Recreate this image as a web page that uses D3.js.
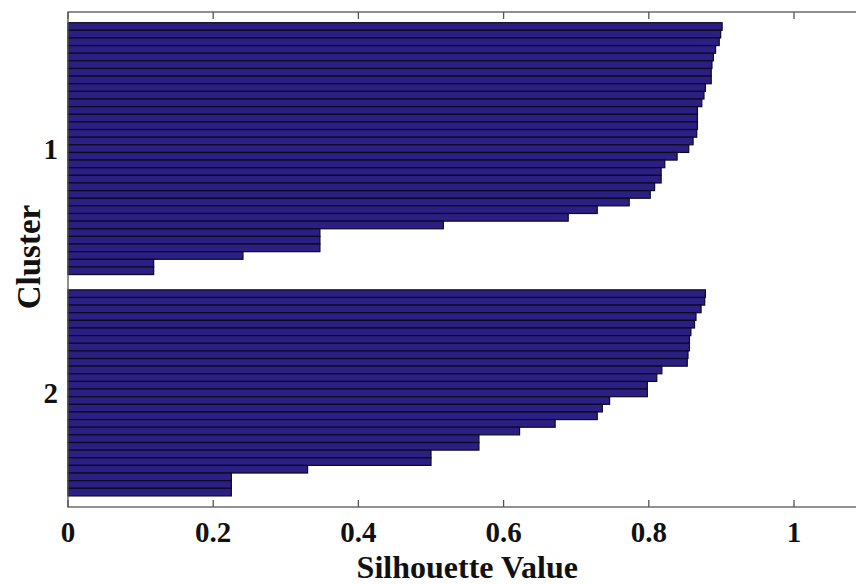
<!DOCTYPE html>
<html>
<head>
<meta charset="utf-8">
<script src="https://cdn.jsdelivr.net/npm/d3@7"></script>
<style>
  html, body { margin: 0; padding: 0; background: #fff; }
  svg { display: block; }
  text { font-family: "Liberation Serif", "Times New Roman", serif; font-weight: bold; fill: #111; }
</style>
</head>
<body>
<svg id="chart" width="856" height="584"></svg>
<script>
// silhouette values, sorted within each cluster
const cluster1 = [0.901, 0.899, 0.897, 0.892, 0.889, 0.887, 0.886, 0.886, 0.878, 0.876,
  0.873, 0.867, 0.867, 0.867, 0.866, 0.861, 0.855, 0.839, 0.822, 0.817,
  0.817, 0.808, 0.802, 0.773, 0.729, 0.689, 0.517, 0.347, 0.347, 0.347,
  0.241, 0.118, 0.118];
const cluster2 = [0.878, 0.877, 0.872, 0.865, 0.863, 0.858, 0.856, 0.856, 0.854, 0.853,
  0.818, 0.811, 0.798, 0.798, 0.746, 0.736, 0.729, 0.671, 0.622, 0.566,
  0.566, 0.500, 0.500, 0.330, 0.225, 0.225, 0.225];
const clusterNames = ['1', '2'];
const xTicks = [0, 0.2, 0.4, 0.6, 0.8, 1];
const gapRows = 2;

const svg = d3.select('#chart');
const x = d3.scaleLinear().domain([0, 1.1]).range([68, 866.6]);
const y = d3.scaleLinear().domain([-1.4, 63.45]).range([12, 507]);

// rows: cluster 1 first, a gap, then cluster 2
const rows = [];
const clusterCentres = [];
let r = 0;
[cluster1, cluster2].forEach((vals, ci) => {
  const start = r;
  vals.forEach(v => rows.push({ row: r++, value: v }));
  clusterCentres.push({ name: clusterNames[ci], pos: (start + r) / 2 });
  r += gapRows;
});

svg.append('g').selectAll('rect').data(rows).join('rect')
  .attr('x', x(0))
  .attr('y', d => y(d.row))
  .attr('width', d => x(d.value) - x(0))
  .attr('height', d => y(d.row + 1) - y(d.row))
  .attr('fill', '#2b1f84')
  .attr('stroke', '#0c0a20')
  .attr('stroke-width', 1.2);

// frame
const frame = svg.append('g').attr('stroke', '#555').attr('stroke-width', 1.3).attr('fill', 'none');
frame.append('rect')
  .attr('x', x(0)).attr('y', y(-1.4))
  .attr('width', x(1.1) - x(0)).attr('height', y(63.45) - y(-1.4));

// inward ticks
const tickLen = 7;
frame.selectAll('.tb').data(xTicks).join('line')
  .attr('x1', d => x(d)).attr('x2', d => x(d))
  .attr('y1', y(63.45)).attr('y2', y(63.45) - tickLen);
frame.selectAll('.tt').data(xTicks).join('line')
  .attr('class', 'tt')
  .attr('x1', d => x(d)).attr('x2', d => x(d))
  .attr('y1', y(-1.4)).attr('y2', y(-1.4) + tickLen);
frame.selectAll('.tr').data(clusterCentres).join('line')
  .attr('class', 'tr')
  .attr('x1', x(1.1)).attr('x2', x(1.1) - tickLen)
  .attr('y1', d => y(d.pos)).attr('y2', d => y(d.pos));

// tick labels
svg.append('g').selectAll('text').data(xTicks).join('text')
  .attr('x', d => x(d))
  .attr('y', 542)
  .attr('text-anchor', 'middle')
  .attr('font-size', 29)
  .text(d => d3.format('~g')(d));

svg.append('g').selectAll('text').data(clusterCentres).join('text')
  .attr('x', 58)
  .attr('y', d => y(d.pos))
  .attr('dy', '0.35em')
  .attr('text-anchor', 'end')
  .attr('font-size', 29)
  .text(d => d.name);

// axis titles, centred on the axes box
svg.append('text')
  .attr('x', (x(0) + x(1.1)) / 2).attr('y', 578)
  .attr('text-anchor', 'middle')
  .attr('font-size', 32)
  .text('Silhouette Value');

svg.append('text')
  .attr('transform', 'translate(40,257) rotate(-90)')
  .attr('text-anchor', 'middle')
  .attr('font-size', 33)
  .text('Cluster');
</script>
</body>
</html>
